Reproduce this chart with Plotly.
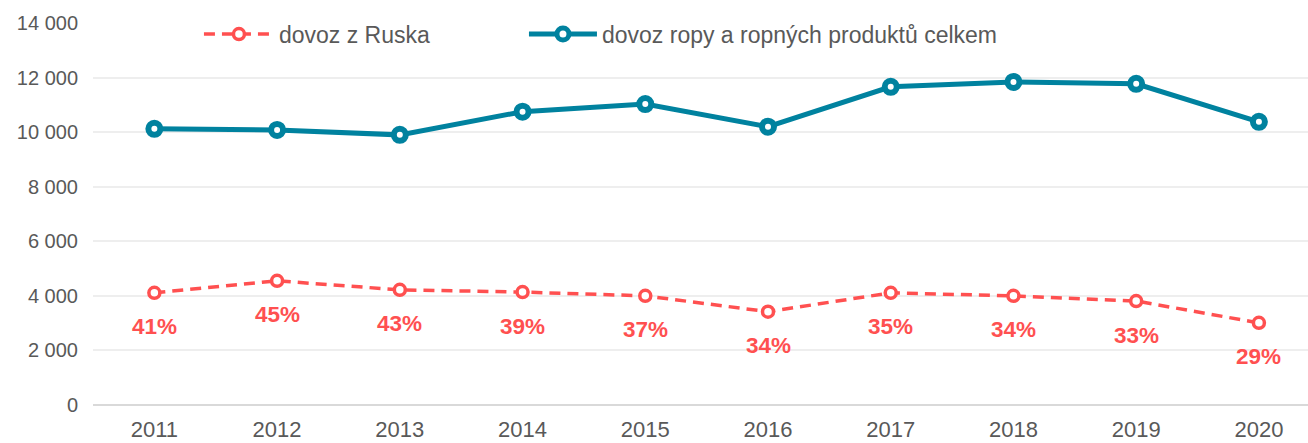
import plotly.graph_objects as go

years = [2011, 2012, 2013, 2014, 2015, 2016, 2017, 2018, 2019, 2020]
dovoz_celkem = [10120, 10080, 9900, 10750, 11030, 10200, 11660, 11840, 11770, 10380]
dovoz_rusko = [4110, 4550, 4220, 4140, 4000, 3420, 4110, 4000, 3810, 3010]
podil_rusko = ["41%", "45%", "43%", "39%", "37%", "34%", "35%", "34%", "33%", "29%"]

red = "#FF5050"
teal = "#00829F"
grey = "#595959"
font_family = "Arial"

fig = go.Figure()

fig.add_trace(go.Scatter(
    x=years, y=dovoz_rusko, mode="lines+markers", name="dovoz z Ruska",
    line=dict(color=red, width=3.5, dash="11px,7px"),
    marker=dict(size=11, color="white", line=dict(color=red, width=3.5)),
    legend="legend",
))
fig.add_trace(go.Scatter(
    x=years, y=dovoz_celkem, mode="lines+markers",
    name="dovoz ropy a ropných produktů celkem",
    line=dict(color=teal, width=5),
    marker=dict(size=12, color="white", line=dict(color=teal, width=6)),
    legend="legend2",
))

# percentage labels under the Russia points
for yr, val, txt in zip(years, dovoz_rusko, podil_rusko):
    fig.add_annotation(x=yr, y=val, text="<b>" + txt + "</b>", showarrow=False, yshift=-34,
                       font=dict(color=red, size=22.5, family=font_family),
                       xanchor="center", yanchor="middle")

legend_style = dict(orientation="h", yanchor="middle", xanchor="left", y=0.971,
                    font=dict(size=23, color=grey, family=font_family),
                    bgcolor="rgba(0,0,0,0)")

fig.update_layout(
    width=1308, height=443,
    margin=dict(l=93, r=0, t=23, b=38),
    plot_bgcolor="white", paper_bgcolor="white",
    font=dict(family=font_family, size=20, color=grey),
    legend=dict(x=0.0872, itemwidth=70, **legend_style),
    legend2=dict(x=0.3547, itemwidth=68, **legend_style),
    xaxis=dict(range=[2010.5, 2020.4], dtick=1, showgrid=False, ticks="",
               showline=False, zeroline=False, ticklabelstandoff=9, automargin=False,
               tickfont=dict(size=22, color=grey)),
    yaxis=dict(range=[0, 14000], dtick=2000, tickformat=",d",
               showgrid=True, gridcolor="#EEEEEE", gridwidth=2, zeroline=True,
               zerolinecolor="#D9D9D9", zerolinewidth=2, ticks="", automargin=False,
               ticklabelstandoff=14, tickfont=dict(size=20, color=grey)),
    separators=", ",
    showlegend=True,
)

fig.write_html("out.html", config={"displayModeBar": False},
               post_script="document.body.style.margin='0';")
